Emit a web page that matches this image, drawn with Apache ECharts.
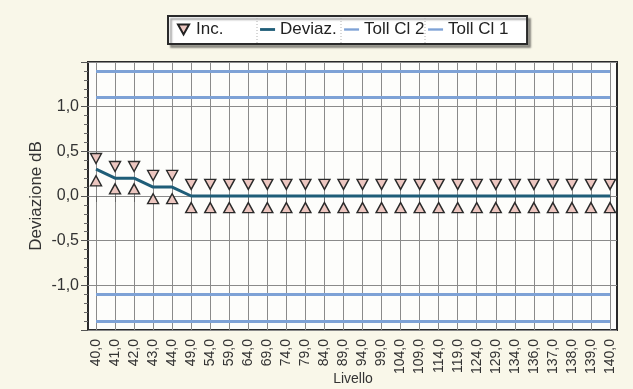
<!DOCTYPE html>
<html>
<head>
<meta charset="utf-8">
<script src="https://cdn.jsdelivr.net/npm/echarts@6/dist/echarts.min.js"></script>
<style>
html,body{margin:0;padding:0;background:#f9f7e9;}
#chart{width:633px;height:389px;}
</style>
</head>
<body>
<div id="chart"></div>
<script>
// ---- data ----
var categories = ['40,0','41,0','42,0','43,0','44,0','49,0','54,0','59,0','64,0','69,0','74,0','79,0','84,0','89,0','94,0','99,0','104,0','109,0','114,0','119,0','124,0','129,0','134,0','136,0','137,0','138,0','139,0','140,0'];
var deviaz   = [0.30,0.20,0.20,0.10,0.10,0,0,0,0,0,0,0,0,0,0,0,0,0,0,0,0,0,0,0,0,0,0,0];
var incUpper = [0.42,0.33,0.33,0.23,0.23,0.13,0.13,0.13,0.13,0.13,0.13,0.13,0.13,0.13,0.13,0.13,0.13,0.13,0.13,0.13,0.13,0.13,0.13,0.13,0.13,0.13,0.13,0.13];
var incLower = [0.17,0.08,0.08,-0.03,-0.03,-0.13,-0.13,-0.13,-0.13,-0.13,-0.13,-0.13,-0.13,-0.13,-0.13,-0.13,-0.13,-0.13,-0.13,-0.13,-0.13,-0.13,-0.13,-0.13,-0.13,-0.13,-0.13,-0.13];
var tollCl2 = [1.4, -1.4];
var tollCl1 = [1.1, -1.1];
var yTicks = {min: -1.5, max: 1.5, interval: 0.5};

var FONT = 'Liberation Sans, Arial, sans-serif';
var TOLL_COLOR = '#7ea2d6';
var DEV_COLOR = '#1f5d78';
var MARK_FILL = '#ecc6c0';
var GRID_COLOR = '#8a8a8a';

function fmt(v){ return v.toFixed(1).replace('.', ','); }

var chart = echarts.init(document.getElementById('chart'), null, {renderer:'canvas'});
var option = {
  backgroundColor: '#f9f7e9',
  animation: false,
  textStyle: {fontFamily: FONT},
  legend: {
    left: 168, top: 16,
    padding: [5, 17, 6, 9],
    itemGap: 2,
    itemWidth: 15, itemHeight: 10,
    selectedMode: false,
    backgroundColor: '#ffffff',
    borderColor: '#2a2a2a', borderWidth: 2,
    shadowColor: 'rgba(0,0,0,0.35)', shadowBlur: 2, shadowOffsetX: 3, shadowOffsetY: 3,
    formatter: '{t|{name}}',
    textStyle: {fontSize: 17, color: '#222', fontFamily: FONT,
      rich: {t: {width: 62, fontSize: 17, color: '#222', fontFamily: FONT, lineHeight: 20}}},
    data: [
      {name: 'Inc.', icon: 'path://M0,0 L10,0 L5,9 Z', itemStyle: {color: MARK_FILL, borderColor: '#222', borderWidth: 2}},
      {name: 'Deviaz.', icon: 'path://M0,0 L16,0 L16,3 L0,3 Z'},
      {name: 'Toll Cl 2', icon: 'path://M0,0 L16,0 L16,2.5 L0,2.5 Z'},
      {name: 'Toll Cl 1', icon: 'path://M0,0 L16,0 L16,2.5 L0,2.5 Z'}
    ]
  },
  graphic: [
    {type: 'line', shape: {x1: 257, y1: 18, x2: 257, y2: 44}, style: {stroke: '#b0b0b0', lineWidth: 1, lineDash: [1, 2]}, z: 100},
    {type: 'line', shape: {x1: 341, y1: 18, x2: 341, y2: 44}, style: {stroke: '#b0b0b0', lineWidth: 1, lineDash: [1, 2]}, z: 100},
    {type: 'line', shape: {x1: 425, y1: 18, x2: 425, y2: 44}, style: {stroke: '#b0b0b0', lineWidth: 1, lineDash: [1, 2]}, z: 100}
  ],
  grid: [
    {left: 88, right: 16, top: 62, height: 268, show: true, backgroundColor: '#fdfdfb', borderColor: '#2a2a2a', borderWidth: 2, z: 0, containLabel: false, outerBoundsMode: 'none'},
    {left: 96, right: 23, top: 62, height: 268, show: false, containLabel: false, outerBoundsMode: 'none'}
  ],
  xAxis: [
    {gridIndex: 0, type: 'value', min: 0, max: 1, show: false},
    {
      gridIndex: 1, type: 'category', data: categories, boundaryGap: false,
      axisLine: {show: false},
      axisTick: {show: true, length: 6, interval: 0, lineStyle: {color: '#666'}},
      splitLine: {show: true, interval: 0, lineStyle: {color: GRID_COLOR, width: 1}},
      axisLabel: {rotate: 90, interval: 0, fontSize: 14, color: '#333', margin: 9, fontFamily: FONT, overflow: 'none', hideOverlap: false},
      name: 'Livello', nameLocation: 'middle', nameGap: 42, nameMoveOverlap: false,
      nameTextStyle: {fontSize: 14, color: '#333', fontFamily: FONT}
    }
  ],
  yAxis: [
    {
      gridIndex: 0, type: 'value', min: yTicks.min, max: yTicks.max, interval: yTicks.interval,
      axisLine: {show: false},
      axisTick: {show: true, length: 7, lineStyle: {color: '#555'}},
      minorTick: {show: true, splitNumber: 5, length: 4, lineStyle: {color: '#666'}},
      splitLine: {show: true, lineStyle: {color: GRID_COLOR, width: 1.2}},
      axisLabel: {showMinLabel: false, showMaxLabel: false, formatter: fmt, fontSize: 16, color: '#333', margin: 9, fontFamily: FONT},
      name: 'Deviazione dB', nameLocation: 'middle', nameGap: 43, nameMoveOverlap: false,
      nameTextStyle: {fontSize: 17, color: '#333', fontFamily: FONT}
    },
    {gridIndex: 1, type: 'value', min: yTicks.min, max: yTicks.max, interval: yTicks.interval, show: false}
  ],
  series: [
    {
      name: 'Inc.', type: 'scatter', xAxisIndex: 1, yAxisIndex: 1, data: incUpper,
      symbol: 'triangle', symbolRotate: 180, symbolSize: [11, 10], z: 5,
      itemStyle: {color: MARK_FILL, borderColor: '#2a2a2a', borderWidth: 1.4, opacity: 1}
    },
    {
      name: 'Inc.', type: 'scatter', xAxisIndex: 1, yAxisIndex: 1, data: incLower,
      symbol: 'triangle', symbolSize: [11, 10], z: 5,
      itemStyle: {color: MARK_FILL, borderColor: '#2a2a2a', borderWidth: 1.4, opacity: 1}
    },
    {
      name: 'Deviaz.', type: 'line', xAxisIndex: 1, yAxisIndex: 1, data: deviaz,
      showSymbol: false, symbol: 'none', z: 4,
      itemStyle: {color: DEV_COLOR}, lineStyle: {color: DEV_COLOR, width: 3}
    },
    {
      name: 'Toll Cl 2', type: 'line', xAxisIndex: 1, yAxisIndex: 1, data: [],
      itemStyle: {color: TOLL_COLOR}, lineStyle: {color: TOLL_COLOR, width: 3}, z: 3,
      markLine: {symbol: 'none', silent: true, label: {show: false},
        lineStyle: {color: TOLL_COLOR, width: 3, type: 'solid'},
        data: tollCl2.map(function(v){ return {yAxis: v}; })}
    },
    {
      name: 'Toll Cl 1', type: 'line', xAxisIndex: 1, yAxisIndex: 1, data: [],
      itemStyle: {color: TOLL_COLOR}, lineStyle: {color: TOLL_COLOR, width: 3}, z: 3,
      markLine: {symbol: 'none', silent: true, label: {show: false},
        lineStyle: {color: TOLL_COLOR, width: 3, type: 'solid'},
        data: tollCl1.map(function(v){ return {yAxis: v}; })}
    }
  ]
};
chart.setOption(option);
</script>
</body>
</html>
